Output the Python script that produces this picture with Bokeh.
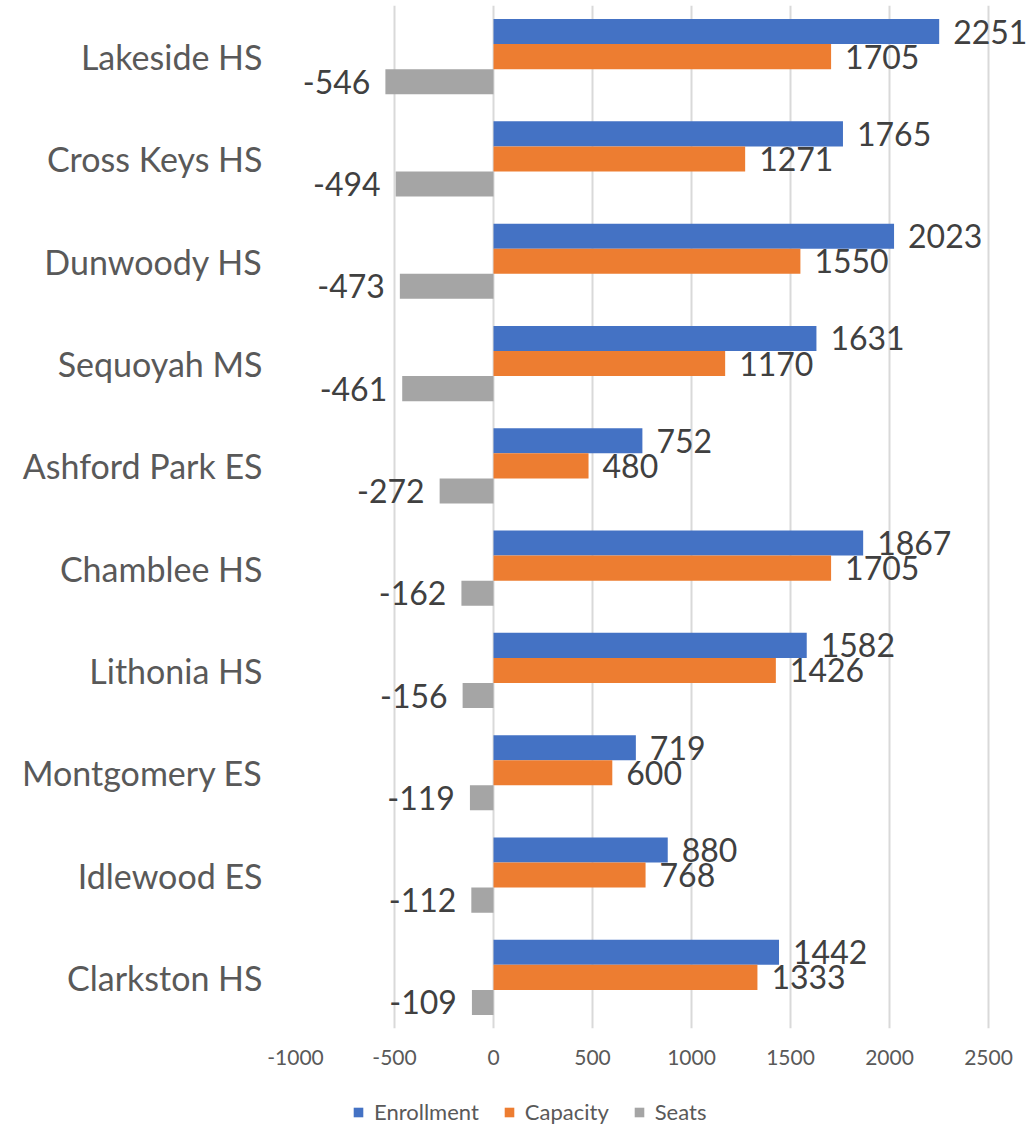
from bokeh.plotting import figure
from bokeh.layouts import column
from bokeh.models import ColumnDataSource, FactorRange, LabelSet, Legend, LegendItem, FixedTicker, Range1d
from bokeh.core.properties import value
from bokeh.transform import dodge
from bokeh.embed import file_html
from bokeh.resources import INLINE

schools = ["Lakeside HS", "Cross Keys HS", "Dunwoody HS", "Sequoyah MS", "Ashford Park ES",
           "Chamblee HS", "Lithonia HS", "Montgomery ES", "Idlewood ES", "Clarkston HS"]
enrollment = [2251, 1765, 2023, 1631, 752, 1867, 1582, 719, 880, 1442]
capacity = [1705, 1271, 1550, 1170, 480, 1705, 1426, 600, 768, 1333]
seats = [-546, -494, -473, -461, -272, -162, -156, -119, -112, -109]
series_names = ["Enrollment", "Capacity", "Seats"]
x_ticks = [-1000, -500, 0, 500, 1000, 1500, 2000, 2500]
x_tick_labels = ["-1000", "-500", "0", "500", "1000", "1500", "2000", "2500"]

colors = ["#4472C4", "#ED7D31", "#A5A5A5"]
FONT = "Lato"
TXT = "#404040"
AX = "#595959"

PX_PER_UNIT = 693 / 3500.0
FRAME_W = 731
x_end = -1000 + FRAME_W / PX_PER_UNIT  # extra room on the right for labels

p = figure(frame_width=FRAME_W, frame_height=1023, output_backend="svg", toolbar_location=None,
           y_range=FactorRange(factors=list(reversed(schools)), range_padding=0),
           x_range=Range1d(-1000, x_end),
           min_border_left=295, min_border_right=0, min_border_top=5, min_border_bottom=45)
p.outline_line_color = None
p.background_fill_color = "white"
p.border_fill_color = "white"

bw = 0.245
offsets = [bw, 0.0, -bw]
series = [enrollment, capacity, seats]
for name, vals, off, col in zip(series_names, series, offsets, colors):
    src = ColumnDataSource(dict(school=schools, v=vals))
    p.hbar(y=dodge("school", off, range=p.y_range), right="v", left=0, height=bw,
           source=src, fill_color=col, line_color=None)
    pos = ColumnDataSource(dict(school=[s for s, x in zip(schools, vals) if x >= 0],
                                v=[x for x in vals if x >= 0],
                                t=[str(x) for x in vals if x >= 0]))
    neg = ColumnDataSource(dict(school=[s for s, x in zip(schools, vals) if x < 0],
                                v=[x for x in vals if x < 0],
                                t=[str(x) for x in vals if x < 0]))
    for s, align, xo in ((pos, "left", 14), (neg, "right", -15)):
        p.add_layout(LabelSet(x="v", y=dodge("school", off, range=p.y_range), text="t", source=s,
                              text_align=value(align), text_baseline=value("middle"), x_offset=xo,
                              text_font=value(FONT), text_font_size=value("32px"),
                              text_color=value(TXT)))

p.xaxis.ticker = FixedTicker(ticks=x_ticks)
p.xaxis.major_label_overrides = {t: l for t, l in zip(x_ticks, x_tick_labels)}
p.xaxis.axis_line_color = None
p.xaxis.major_tick_line_color = None
p.xaxis.minor_tick_line_color = None
p.xaxis.major_label_text_font = FONT
p.xaxis.major_label_text_font_size = "21px"
p.xaxis.major_label_text_color = AX
p.xaxis.major_label_standoff = 15

p.yaxis.axis_line_color = None
p.yaxis.major_tick_line_color = None
p.yaxis.major_label_text_font = FONT
p.yaxis.major_label_text_font_size = "34px"
p.yaxis.major_label_text_color = AX
p.yaxis.major_label_standoff = 27

p.ygrid.grid_line_color = None
p.xgrid.grid_line_color = "#D9D9D9"
p.xgrid.grid_line_width = 2

# legend strip underneath the chart
lg = figure(width=295 + FRAME_W, height=52, output_backend="svg", toolbar_location=None,
            x_range=Range1d(0, 1), y_range=Range1d(0, 1),
            x_axis_type=None, y_axis_type=None,
            min_border_left=0, min_border_right=0, min_border_top=0, min_border_bottom=0)
lg.outline_line_color = None
lg.grid.grid_line_color = None
items = []
for name, col in zip(series_names, colors):
    # a single bar outside the visible range: only its legend swatch is shown
    r = lg.hbar(y=[-5], right=[-4], left=[-5], height=0.1, fill_color=col, line_color=None)
    items.append(LegendItem(label=name, renderers=[r]))
legend = Legend(items=items, orientation="horizontal", location=(57, 0),
                glyph_width=12, glyph_height=12, label_standoff=10, spacing=24,
                label_text_font=FONT, label_text_font_size="22px", label_text_color=AX,
                border_line_color=None, background_fill_alpha=0, margin=0, padding=0)
lg.add_layout(legend, "center")

layout = column(p, lg, spacing=0)
open("out.html", "w").write(file_html(layout, INLINE))
